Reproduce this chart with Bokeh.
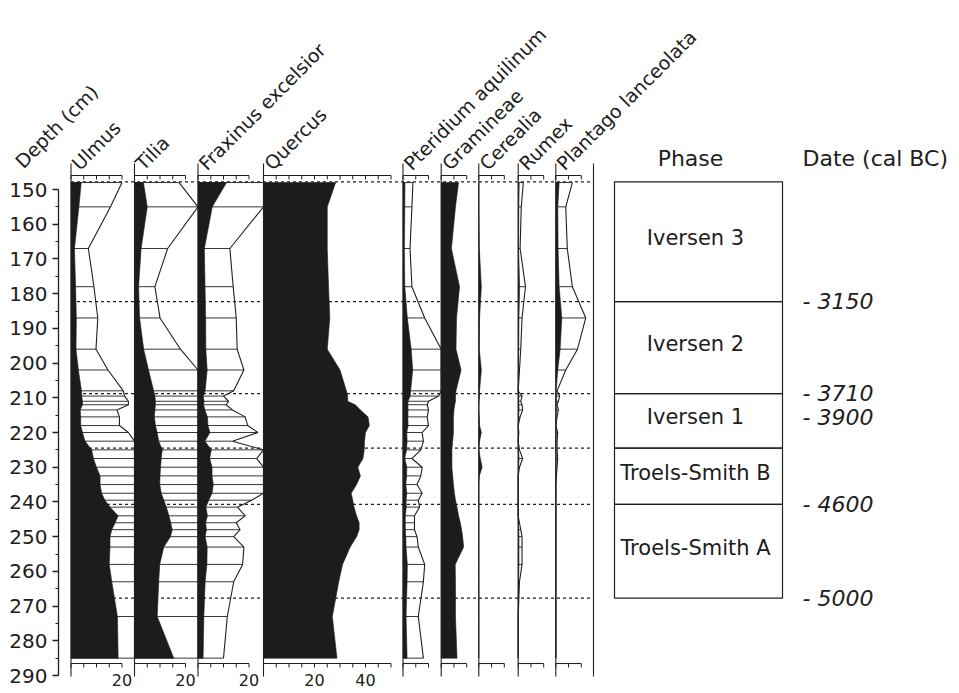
import math
from bokeh.plotting import figure
from bokeh.models import Range1d, LinearAxis, SingleIntervalTicker
from bokeh.embed import file_html
from bokeh.resources import INLINE
from bokeh.core.properties import value

# ---------------- data ----------------
depths = [148, 155, 167, 178, 187, 196, 202, 208, 209.5, 211, 212, 213.5, 215.5, 218, 220,
          222.5, 225, 227.5, 230, 232.5, 235, 237.5, 239.5, 241.5, 244, 246, 248, 250, 253,
          258, 263, 273, 285]

ulmus = [4.0, 3.1, 1.36, 1.8, 2.1, 1.96, 2.9, 4.1, 4.2, 4.5, 4.5, 3.6, 3.8, 3.8, 4.5,
         5.5, 8.1, 8.8, 10.0, 11.4, 11.4, 12.0, 13.3, 15.3, 18.5, 17.3, 16.0, 15.3, 15.3,
         15.0, 16.0, 18.2, 18.5]
tilia = [3.5, 5.0, 2.6, 1.6, 2.0, 3.6, 5.5, 7.5, 8.0, 8.2, 8.2, 8.0, 7.8, 8.2, 8.9,
         9.5, 10.9, 10.5, 10.2, 10.0, 9.9, 10.5, 11.5, 12.5, 13.5, 14.2, 14.8, 14.1, 11.5,
         9.9, 9.5, 8.9, 15.4]
fraxinus = [11.2, 5.6, 2.5, 2.76, 3.0, 3.07, 3.6, 2.8, 2.0, 2.4, 2.2, 2.7, 3.7, 3.9, 4.7,
            2.7, 5.2, 4.6, 5.5, 5.5, 6.0, 5.5, 4.2, 3.1, 3.7, 3.0, 3.3, 2.8, 3.6,
            3.5, 2.8, 2.3, 2.0]
quercus = [28.3, 25.0, 25.0, 25.5, 26.0, 25.0, 30.0, 32.5, 33.0, 33.0, 36.0, 38.0, 41.0, 41.5, 40.0,
           39.6, 39.5, 39.0, 37.0, 38.0, 36.5, 34.4, 35.0, 35.5, 36.5, 37.5, 37.5, 36.5, 34.0,
           31.0, 29.5, 27.0, 28.8]
pteridium = [0.78, 0.7, 0.55, 0.7, 1.7, 3.2, 3.8, 3.0, 2.8, 2.0, 1.9, 2.0, 1.9, 2.0, 1.5,
             1.6, 1.4, 0.7, 1.5, 1.4, 1.1, 1.5, 1.2, 1.3, 0.9, 0.9, 0.9, 1.1, 1.2,
             1.7, 1.6, 1.2, 1.6]
gramineae = [6.8, 5.6, 4.0, 7.2, 6.0, 5.8, 7.8, 5.8, 5.6, 5.6, 5.3, 5.0, 4.8, 4.8, 4.8,
             4.5, 4.2, 4.2, 4.2, 4.5, 4.8, 5.2, 5.6, 6.2, 6.8, 7.5, 8.0, 8.4, 8.8,
             5.5, 5.6, 5.6, 6.2]
cerealia = [0, 0, 0.2, 1.0, 0.3, 0.2, 1.0, 0.3, 0.3, 0.1, 0, 0, 0.2, 0.3, 1.0,
            0.3, 0, 0.6, 1.3, 0.2, 0, 0, 0, 0, 0, 0, 0, 0, 0,
            0, 0, 0, 0]
rumex = [0.4, 0.24, 0.15, 0.57, 0.3, 0.2, 0.1, 0, 0.3, 0.2, 0.3, 0.35, 0.15, 0, 0.05,
         0, 0.1, 0.35, 0.1, 0, 0, 0, 0, 0, 0, 0.1, 0.2, 0.3, 0.3,
         0.3, 0.1, 0, 0]
plantago = [1.3, 0.78, 0.9, 1.3, 2.35, 1.7, 0.78, 0.1, 0.3, 0.2, 0.1, 0.2, 0.1, 0, 0.15,
            0.1, 0.1, 0.15, 0.1, 0.05, 0, 0, 0, 0, 0, 0, 0, 0, 0,
            0, 0, 0, 0]

taxa = ["Ulmus", "Tilia", "Fraxinus excelsior", "Quercus", "Pteridium aquilinum",
        "Gramineae", "Cerealia", "Rumex", "Plantago lanceolata"]
series = [ulmus, tilia, fraxinus, quercus, pteridium, gramineae, cerealia, rumex, plantago]
exaggerated = [True, True, True, False, True, False, False, True, True]
EXAG = 5
scale_max = [20, 20, 20, 50, 10, 10, 10, 10, 10]
scale_labels = [[20], [20], [20], [20, 40], [], [], [], [], []]

phase_names = ["Iversen 3", "Iversen 2", "Iversen 1", "Troels-Smith B", "Troels-Smith A"]
phase_bounds = [147.8, 182.3, 208.8, 224.5, 240.7, 267.7]
date_labels = ["- 3150", "- 3710", "- 3900", "- 4600", "- 5000"]
date_depths = [182.3, 208.8, 215.7, 240.7, 267.7]

# ---------------- layout ----------------
W, H = 958, 690
PX_CM = (675 - 189) / 140.0


def dep(ypx):
    return 150 + (ypx - 189) / PX_CM


K = 2.55                               # px per percent
ZEROS = [70.5, 134.0, 197.5, 263.0, 402.5, 440.7, 478.3, 517.7, 555.3]
RIGHT_EDGE = 593
AXIS_X = 58
INK = "#202020"
FILL = "#1c1c1c"
FONT = "DejaVu Sans"

p = figure(width=W, height=H, output_backend="svg", toolbar_location=None,
           x_axis_type=None, y_axis_type=None,
           x_range=Range1d(0, W), y_range=Range1d(dep(H), dep(0)),
           min_border_left=0, min_border_right=0, min_border_top=0, min_border_bottom=0)
p.outline_line_color = None
p.background_fill_color = "white"
p.border_fill_color = "white"

yax = LinearAxis(bounds=(150, 290), fixed_location=AXIS_X,
                 ticker=SingleIntervalTicker(interval=10, num_minor_ticks=2))
yax.axis_line_color = INK
yax.axis_line_width = 1.3
yax.major_tick_line_color = INK
yax.major_tick_line_width = 1.3
yax.major_tick_in = 0
yax.major_tick_out = 6
yax.minor_tick_line_color = INK
yax.minor_tick_in = 0
yax.minor_tick_out = 3
yax.major_label_standoff = 5
yax.major_label_text_font = FONT
yax.major_label_text_font_size = "20px"
yax.major_label_text_color = INK
p.add_layout(yax, "left")

# phase boundary dotted lines
nb = len(phase_bounds)
p.segment(x0=[ZEROS[0]] * nb, y0=phase_bounds, x1=[RIGHT_EDGE] * nb, y1=phase_bounds,
          line_color=INK, line_width=1.3, line_dash="3 3")

n = len(depths)
for i, (vals, z) in enumerate(zip(series, ZEROS)):
    name = "p%d" % i
    p.extra_x_ranges[name] = Range1d((0 - z) / K, (W - z) / K)
    edge = ZEROS[i + 1] if i + 1 < len(ZEROS) else RIGHT_EDGE
    cap = (edge - z) / K
    if exaggerated[i]:
        ex = [min(EXAG * v, cap) for v in vals]
        p.segment(x0=[0] * n, y0=depths, x1=ex, y1=depths, x_range_name=name,
                  line_color=INK, line_width=0.9)
        p.line(ex, depths, x_range_name=name, line_color=INK, line_width=1.1)
    p.patch([0] + vals + [0], [depths[0]] + depths + [depths[-1]], x_range_name=name,
            fill_color=FILL, line_color=FILL, line_width=0.6)
    # zero line
    p.segment(x0=[0], y0=[dep(163)], x1=[0], y1=[dep(676)], x_range_name=name,
              line_color=INK, line_width=1.1)
    # top / bottom scales
    ticks = list(range(0, scale_max[i] + 1, 5))
    for yl, yt in ((dep(175), dep(179)), (dep(663), dep(667))):
        p.segment(x0=[0], y0=[yl], x1=[scale_max[i]], y1=[yl], x_range_name=name,
                  line_color=INK, line_width=1.1)
        p.segment(x0=ticks, y0=[yl] * len(ticks), x1=ticks, y1=[yt] * len(ticks),
                  x_range_name=name, line_color=INK, line_width=1.0)
    if scale_labels[i]:
        p.text(x=scale_labels[i], y=[dep(679)] * len(scale_labels[i]),
               text=[str(s) for s in scale_labels[i]], x_range_name=name,
               text_font=value(FONT), text_font_size=value("16px"), text_color=INK,
               text_align="center", text_baseline="middle")

# right closing line of the diagram
p.segment(x0=[RIGHT_EDGE], y0=[dep(163)], x1=[RIGHT_EDGE], y1=[dep(676)],
          line_color=INK, line_width=1.1)

# taxon labels and depth title
p.text(x=[z + 4 for z in ZEROS], y=[dep(166)] * len(taxa), text=taxa, angle=math.pi / 4,
       text_font=value(FONT), text_font_size=value("19px"), text_color=INK,
       text_align="left", text_baseline="alphabetic")
p.text(x=[18], y=[dep(164)], text=["Depth (cm)"], angle=math.pi / 4,
       text_font=value(FONT), text_font_size=value("19px"), text_color=INK,
       text_align="left", text_baseline="alphabetic")

# phase column
p.quad(left=[614] * 5, right=[782] * 5, top=phase_bounds[:-1], bottom=phase_bounds[1:],
       fill_color=None, line_color=INK, line_width=1.2)
mids = [(a + b) / 2 - 1 for a, b in zip(phase_bounds[:-1], phase_bounds[1:])]
p.text(x=[695] * 5, y=mids, text=phase_names, text_font=value(FONT),
       text_font_size=value("21px"), text_color=INK, text_align="center", text_baseline="middle")
p.text(x=[690], y=[dep(158)], text=["Phase"], text_font=value(FONT),
       text_font_size=value("22px"), text_color=INK, text_align="center", text_baseline="middle")
p.text(x=[802], y=[dep(158)], text=["Date (cal BC)"], text_font=value(FONT),
       text_font_size=value("22px"), text_color=INK, text_align="left", text_baseline="middle")
p.text(x=[802] * len(date_labels), y=date_depths, text=date_labels, text_font=value(FONT),
       text_font_size=value("22px"), text_font_style="italic", text_color=INK,
       text_align="left", text_baseline="middle")

open("out.html", "w").write(file_html(p, INLINE))
